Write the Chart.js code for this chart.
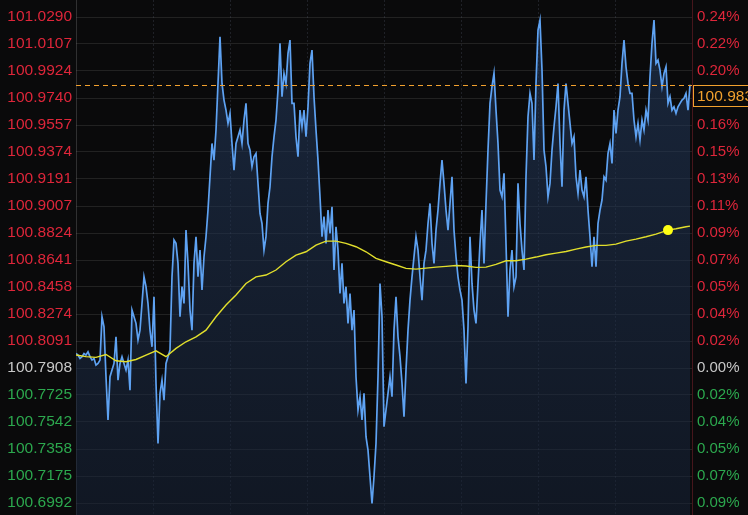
<!DOCTYPE html>
<html><head><meta charset="utf-8">
<script src="https://cdn.jsdelivr.net/npm/chart.js@4/dist/chart.umd.min.js"></script>
<style>html,body{margin:0;padding:0;background:#0a0a0b;overflow:hidden}#wrap{width:748px;height:515px;position:relative}</style>
</head><body><div id="wrap"><canvas id="c" width="748" height="515"></canvas></div>
<script>
// Tick values and labels
const tickValues = [101.0290,101.0107,100.9924,100.9740,100.9557,100.9374,100.9191,100.9007,100.8824,100.8641,100.8458,100.8274,100.8091,100.7908,100.7725,100.7542,100.7358,100.7175,100.6992];
const priceLabels = ['101.0290','101.0107','100.9924','100.9740','100.9557','100.9374','100.9191','100.9007','100.8824','100.8641','100.8458','100.8274','100.8091','100.7908','100.7725','100.7542','100.7358','100.7175','100.6992'];
const pctLabels = ['0.24%','0.22%','0.20%','0.18%','0.16%','0.15%','0.13%','0.11%','0.09%','0.07%','0.05%','0.04%','0.02%','0.00%','0.02%','0.04%','0.05%','0.07%','0.09%'];
const baseIndex = 13;          // 100.7908 = previous close
const lastPrice = 100.983;
const lastPriceLabel = '100.983';
const yMin = 100.69106, yMax = 101.04054;
const timeSlots = 308;
const gridSlots = [0,38.5,77,115.5,154,192.5,231,269.5,308];

// Price series (one value per slot)
const prices = [
100.8007,100.7996,100.7973,100.7985,100.8007,100.7996,100.8018,100.7985,100.7962,100.7973,
100.7928,100.7939,100.7962,100.8256,100.8188,100.7849,100.7555,100.7849,100.7894,100.7939,
100.8120,100.7826,100.7939,100.7985,100.7939,100.7894,100.7962,100.7758,100.8301,100.8256,
100.8211,100.8098,100.8165,100.8346,100.8527,100.8460,100.8346,100.8165,100.8052,100.8392,
100.7804,100.7396,100.7736,100.7826,100.7690,100.7939,100.7985,100.8030,100.8527,100.8776,
100.8754,100.8618,100.8256,100.8460,100.8346,100.8844,100.8618,100.8301,100.8165,100.8618,
100.8799,100.8527,100.8708,100.8437,100.8663,100.8799,100.8980,100.9206,100.9432,100.9319,
100.9523,100.9839,101.0156,100.9839,100.9726,100.9658,100.9568,100.9636,100.9432,100.9251,
100.9432,
100.9477,100.9523,100.9432,100.9591,100.9704,100.9432,100.9387,100.9274,100.9342,100.9364,
100.9161,100.8957,100.8889,100.8708,100.8799,100.9025,100.9138,100.9342,100.9477,100.9591,
100.9794,101.0111,100.9749,100.9907,100.9839,101.0043,101.0133,100.9704,100.9704,100.9477,
100.9342,100.9658,100.9545,100.9658,100.9477,100.9681,100.9975,101.0066,100.9749,100.9523,
100.9319,100.9070,100.8799,100.8935,100.8754,100.8980,100.8821,100.9002,100.8573,100.8867,
100.8708,100.8414,100.8618,100.8346,100.8460,100.8211,100.8414,100.8165,100.8301,100.7849,
100.7623,100.7713,100.7555,100.7736,100.7442,100.7351,100.7170,100.6989,100.7170,100.7396,
100.7849,100.8482,100.8256,100.7510,100.7623,
100.7736,100.7849,100.7713,100.8165,100.8392,100.8120,100.7985,100.7804,100.7577,100.7894,
100.8165,100.8369,100.8527,100.8663,100.8799,100.8708,100.8527,100.8369,100.8618,100.8708,
100.8889,100.9025,100.8754,100.8618,100.8844,100.8980,100.9161,100.9319,100.9161,100.8980,
100.8844,100.9025,100.9206,100.8844,100.8663,100.8527,100.8437,100.8369,100.8165,100.7804,
100.8188,100.8799,100.8482,100.8301,100.8211,100.8482,100.8754,100.8980,100.8618,100.9025,
100.9387,100.9704,100.9817,100.9907,100.9658,100.9432,100.9116,100.9070,100.9229,100.8754,
100.8256,100.8573,100.8708,100.8460,100.8527,100.9161,100.8889,100.8708,100.8573,100.9206,
100.9613,100.9772,100.9704,100.9319,100.9839,101.0201,101.0269,
100.9930,100.9387,100.9274,100.9070,100.9161,100.9387,100.9545,100.9681,100.9839,100.9432,
100.9138,100.9658,100.9839,100.9704,100.9568,100.9432,100.9477,100.9206,100.9093,100.9251,
100.9116,100.9070,100.9206,100.8980,100.8799,100.8595,100.8799,100.8595,100.8889,100.8980,
100.9048,100.9206,100.9183,100.9364,100.9432,100.9296,100.9658,100.9500,100.9658,100.9749,
100.9975,101.0133,100.9952,100.9839,100.9772,100.9772,100.9591,100.9477,100.9568,100.9455,
100.9591,100.9523,100.9658,100.9591,100.9885,101.0111,101.0269,100.9975,100.9998,100.9930,
100.9817,100.9907,100.9952,100.9704,100.9749,100.9658,100.9681,100.9636,100.9681,100.9704,
100.9726,100.9738,100.9772,100.9658,100.9830
];

// Average price line
const avgSlots = [0,5,10,15,20,25,30,35,40,45,50,55,60,65,70,75,80,85,90,95,100,105,110,115,120,125,130,135,140,145,150,155,160,165,170,175,180,185,190,195,200,205,210,215,220,225,230,235,240,245,250,255,260,265,270,275,280,285,290,296,300,305,307];
const avgValues = [100.7996,100.7985,100.7980,100.8000,100.7957,100.7951,100.7966,100.7996,100.8025,100.7985,
100.8041,100.8086,100.8120,100.8165,100.8256,100.8335,100.8403,100.8482,100.8527,100.8539,
100.8573,100.8629,100.8674,100.8697,100.8742,100.8769,100.8769,100.8754,100.8731,100.8697,
100.8652,100.8629,100.8607,100.8584,100.8579,100.8586,100.8593,100.8598,100.8604,100.8600,
100.8591,100.8593,100.8611,100.8636,100.8636,100.8647,100.8661,100.8677,100.8688,100.8699,
100.8715,100.8729,100.8740,100.8740,100.8749,100.8769,100.8783,100.8799,100.8817,100.8844,
100.8853,100.8867,100.8871];
const avgMarkerSlot = 296;

const FONT = "'Liberation Sans', Arial, sans-serif";
const RED = 'rgb(222,38,58)', GREEN = 'rgb(44,168,78)', GREY = 'rgb(200,200,200)';
const ORANGE = '#f2a12e';
const labelColor = i => i < baseIndex ? RED : (i === baseIndex ? GREY : GREEN);

const bgPlugin = {
  id: 'bg',
  beforeDraw(chart) {
    const c = chart.ctx;
    c.save(); c.fillStyle = '#0a0a0b'; c.fillRect(0, 0, chart.width, chart.height); c.restore();
  },
  beforeDatasetsDraw(chart) {
    const c = chart.ctx, xs = chart.scales.x, a = chart.chartArea;
    c.save();
    c.strokeStyle = 'rgba(110,120,140,0.22)';
    c.lineWidth = 1;
    c.setLineDash([2, 2]);
    gridSlots.forEach(v => {
      const px = Math.round(xs.getPixelForValue(v)) + 0.5;
      if (px <= a.left + 1 || px >= a.right - 1) return;
      c.beginPath(); c.moveTo(px, a.top); c.lineTo(px, a.bottom); c.stroke();
    });
    c.setLineDash([]);
    c.strokeStyle = 'rgba(120,120,120,0.35)';
    c.beginPath(); c.moveTo(a.left + 0.5, a.top); c.lineTo(a.left + 0.5, a.bottom); c.stroke();
    c.strokeStyle = 'rgba(110,30,40,0.6)';
    c.beginPath(); c.moveTo(a.right + 0.5, a.top); c.lineTo(a.right + 0.5, a.bottom); c.stroke();
    c.restore();
  },
  afterDraw(chart) {
    const c = chart.ctx, ys = chart.scales.y, a = chart.chartArea;
    const py = Math.round(ys.getPixelForValue(lastPrice)) + 0.5;
    c.save();
    c.strokeStyle = ORANGE; c.lineWidth = 1.2; c.setLineDash([5, 4]);
    c.beginPath(); c.moveTo(a.left, py); c.lineTo(a.right, py); c.stroke();
    c.setLineDash([]); c.lineWidth = 1;
    const bx = a.right + 1.5, by = py, bh = 21;
    c.fillStyle = '#0a0a0b'; c.fillRect(bx, by, 70, bh);
    c.strokeStyle = ORANGE; c.strokeRect(bx, by, 70, bh);
    c.fillStyle = ORANGE; c.font = '15.5px ' + FONT; c.textBaseline = 'middle'; c.textAlign = 'left';
    c.fillText(lastPriceLabel, bx + 3.5, by + bh / 2 + 1);
    c.restore();
  }
};

const ctx = document.getElementById('c').getContext('2d');
new Chart(ctx, {
  type: 'line',
  data: {
    datasets: [
      {
        label: 'avg',
        data: avgSlots.map((x, i) => ({ x, y: avgValues[i] })),
        borderColor: '#e2df2c', borderWidth: 1.4, tension: 0,
        pointRadius: c => (avgSlots[c.dataIndex] === avgMarkerSlot ? 5 : 0),
        pointBackgroundColor: '#ffff14', pointBorderWidth: 0,
        fill: false, order: 0
      },
      {
        label: 'price',
        data: prices.map((y, i) => ({ x: i, y })),
        borderColor: '#5ea2f2', borderWidth: 1.7, tension: 0, pointRadius: 0,
        fill: 'start',
        backgroundColor: c => {
          const ch = c.chart, a = ch.chartArea;
          if (!a) return 'rgba(25,40,65,0.5)';
          const g = ch.ctx.createLinearGradient(0, a.top, 0, a.bottom);
          g.addColorStop(0, 'rgba(38,62,100,0.55)');
          g.addColorStop(1, 'rgba(22,34,55,0.55)');
          return g;
        },
        order: 1
      }
    ]
  },
  options: {
    responsive: false, animation: false, events: [],
    layout: { padding: 0 },
    plugins: { legend: { display: false }, tooltip: { enabled: false } },
    scales: {
      x: {
        type: 'linear', min: 0, max: timeSlots,
        ticks: { display: false }, grid: { display: false }, border: { display: false },
        afterFit: s => { s.height = 0; }
      },
      y: {
        position: 'left', min: yMin, max: yMax,
        afterBuildTicks: s => { s.ticks = tickValues.map(v => ({ value: v })); },
        afterFit: s => { s.width = 76; s.paddingTop = 0; s.paddingBottom = 0; },
        ticks: {
          callback: (v, i) => priceLabels[i],
          color: c => labelColor(c.index),
          font: { family: FONT, size: 15.5 }, padding: 4, autoSkip: false
        },
        grid: { color: 'rgba(128,128,128,0.2)', drawTicks: false, lineWidth: 1 },
        border: { display: false }
      },
      y2: {
        position: 'right', min: yMin, max: yMax,
        afterBuildTicks: s => { s.ticks = tickValues.map(v => ({ value: v })); },
        afterFit: s => { s.width = 56; s.paddingTop = 0; s.paddingBottom = 0; },
        ticks: {
          callback: (v, i) => pctLabels[i],
          color: c => labelColor(c.index),
          font: { family: FONT, size: 15 }, padding: 5, autoSkip: false
        },
        grid: { display: false, drawTicks: false },
        border: { display: false }
      }
    }
  },
  plugins: [bgPlugin]
});
</script>
</body></html>
